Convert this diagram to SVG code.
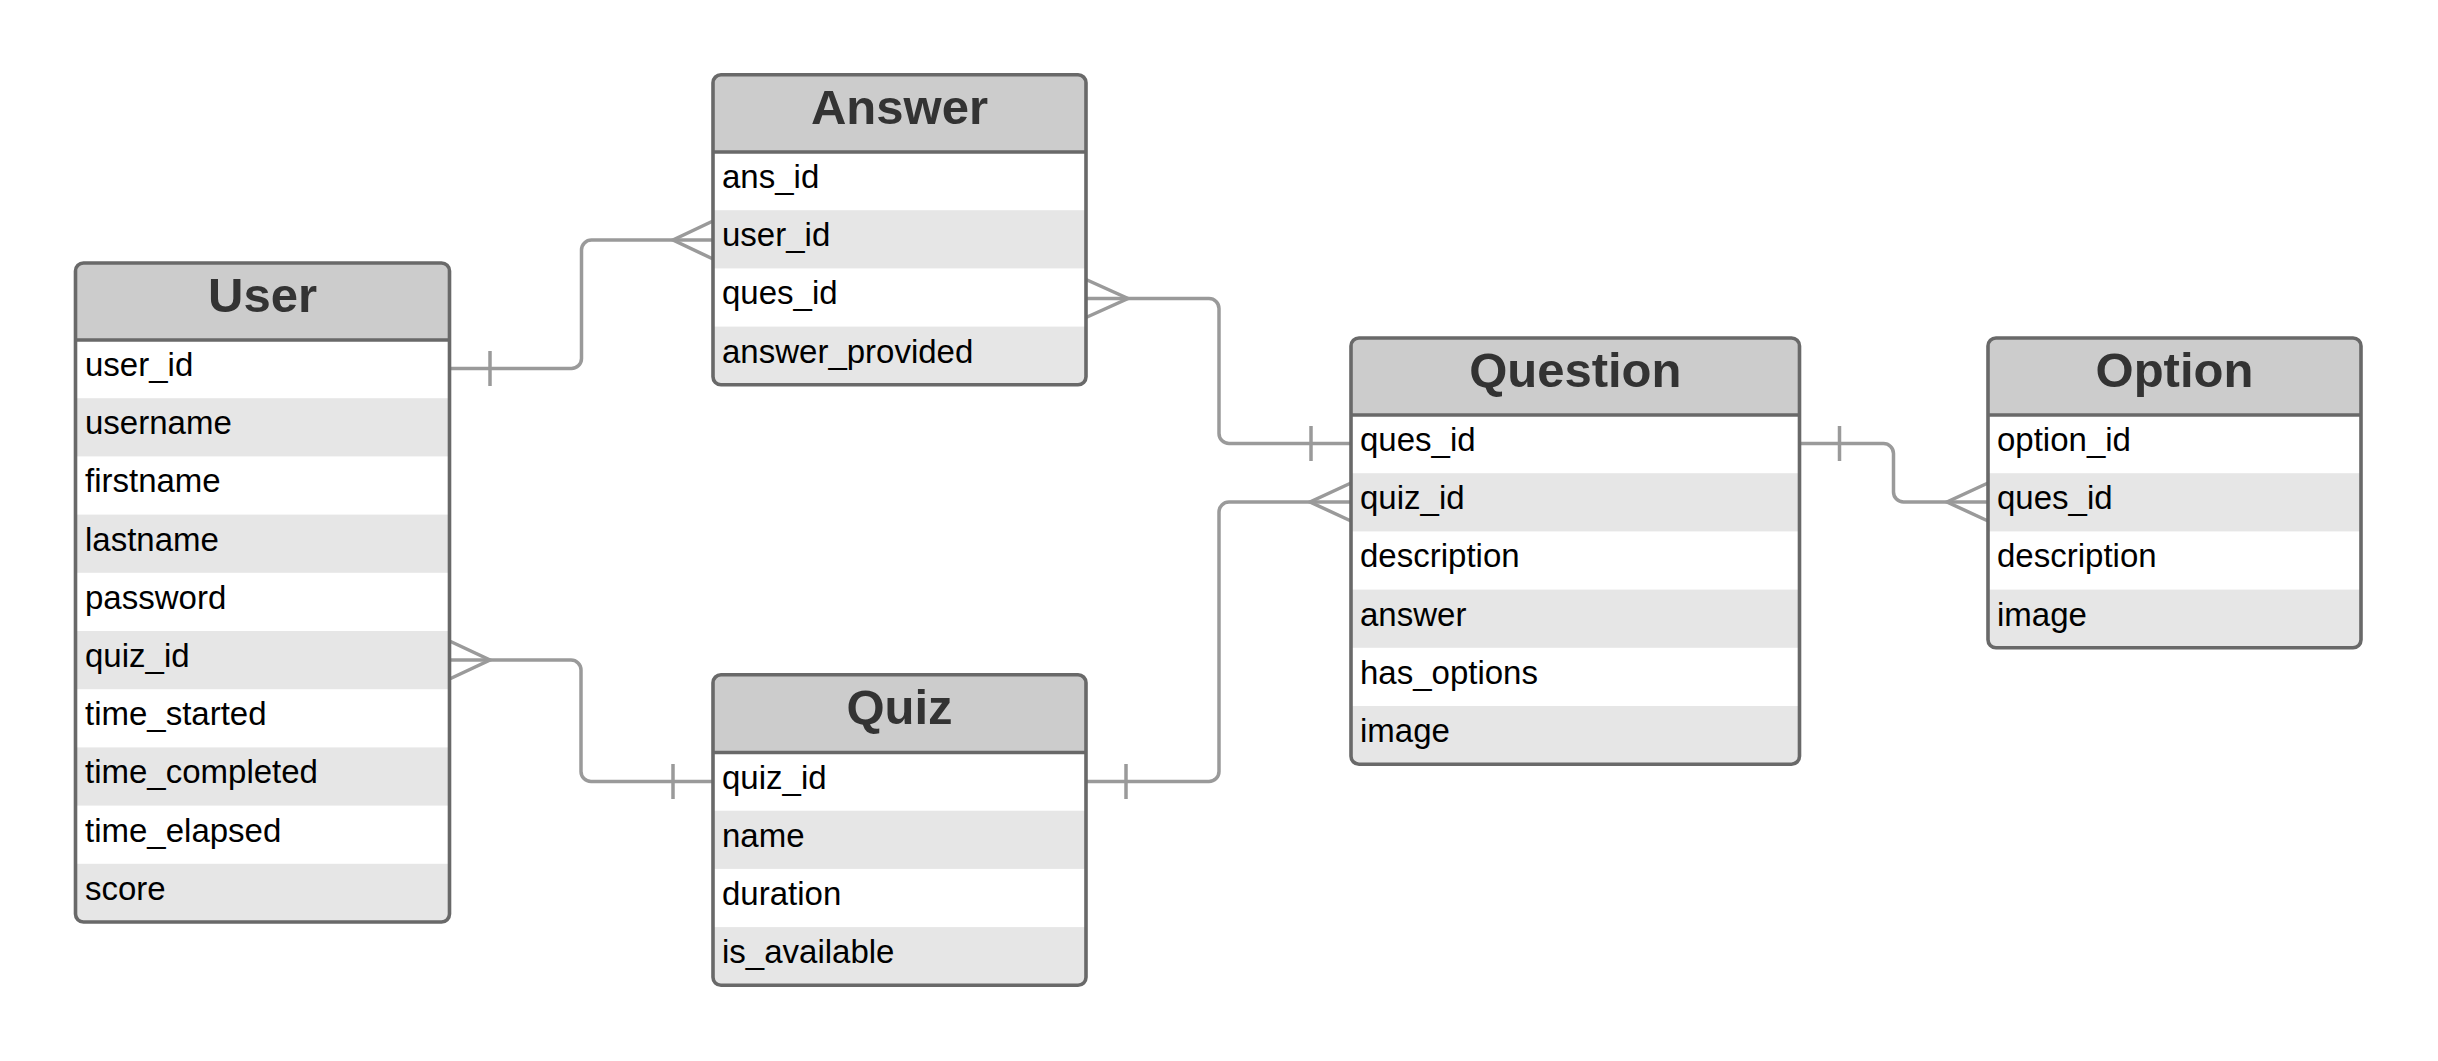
<svg xmlns="http://www.w3.org/2000/svg" width="2438" height="1061" viewBox="0 0 2438 1061">
<style>
.bg{fill:#ffffff}
.hd{fill:#cccccc}
.alt{fill:#e6e6e6}
.frame{fill:none;stroke:#696969;stroke-width:3.6}
.sep{stroke:#696969;stroke-width:3.6}
.title{font-family:"Liberation Sans",Arial,sans-serif;font-weight:bold;font-size:49px;fill:#333333;text-anchor:middle}
.row{font-family:"Liberation Sans",Arial,sans-serif;font-size:33px;fill:#000000}
.conn{fill:none;stroke:#9a9a9a;stroke-width:3.5;stroke-linecap:butt}
</style>
<defs>
<clipPath id="cUser"><rect x="75.5" y="263" width="374" height="659" rx="8"/></clipPath>
<clipPath id="cAnswer"><rect x="713" y="74.8" width="373" height="310" rx="8"/></clipPath>
<clipPath id="cQuiz"><rect x="713" y="674.8" width="373" height="310.5" rx="8"/></clipPath>
<clipPath id="cQuestion"><rect x="1351" y="338" width="448.5" height="426.2" rx="8"/></clipPath>
<clipPath id="cOption"><rect x="1988" y="338" width="373" height="309.8" rx="8"/></clipPath>
</defs>
<rect width="2438" height="1061" fill="#ffffff"/>

<g id="connectors">
  <!-- User.user_id -> Answer.user_id -->
  <path class="conn" d="M449.5 368.5 H571.5 A10 10 0 0 0 581.5 358.5 V250 A10 10 0 0 1 591.5 240 H713"/>
  <path class="conn" d="M490 351 V386"/>
  <path class="conn" d="M713 221 L673 240 L713 259"/>
  <!-- User.quiz_id -> Quiz.quiz_id -->
  <path class="conn" d="M449.5 660 H571 A10 10 0 0 1 581 670 V771.5 A10 10 0 0 0 591 781.5 H713"/>
  <path class="conn" d="M449.5 641 L490 660 L449.5 679"/>
  <path class="conn" d="M673 764 V799"/>
  <!-- Answer.ques_id -> Question.ques_id -->
  <path class="conn" d="M1086 298.5 H1209 A10 10 0 0 1 1219 308.5 V433.5 A10 10 0 0 0 1229 443.5 H1351"/>
  <path class="conn" d="M1086 279.5 L1128 298.5 L1086 317.5"/>
  <path class="conn" d="M1311 426 V461"/>
  <!-- Quiz.quiz_id -> Question.quiz_id -->
  <path class="conn" d="M1086 781.5 H1209 A10 10 0 0 0 1219 771.5 V512 A10 10 0 0 1 1229 502 H1351"/>
  <path class="conn" d="M1126 764 V799"/>
  <path class="conn" d="M1351 483 L1310 502 L1351 521"/>
  <!-- Question.ques_id -> Option.ques_id -->
  <path class="conn" d="M1799.5 443.5 H1883.5 A10 10 0 0 1 1893.5 453.5 V492 A10 10 0 0 0 1903.5 502 H1988"/>
  <path class="conn" d="M1839.5 426 V461"/>
  <path class="conn" d="M1988 483 L1947 502 L1988 521"/>
</g>

<g id="user">
  <rect class="bg" x="75.5" y="263" width="374" height="659" rx="8"/>
  <g clip-path="url(#cUser)">
    <rect class="hd" x="75.5" y="263" width="374" height="77"/>
    <rect class="alt" x="75.5" y="398.2" width="374" height="58.2"/>
    <rect class="alt" x="75.5" y="514.6" width="374" height="58.2"/>
    <rect class="alt" x="75.5" y="631" width="374" height="58.2"/>
    <rect class="alt" x="75.5" y="747.4" width="374" height="58.2"/>
    <rect class="alt" x="75.5" y="863.8" width="374" height="60"/>
  </g>
  <line class="sep" x1="75.5" y1="340" x2="449.5" y2="340"/>
  <rect class="frame" x="75.5" y="263" width="374" height="659" rx="8"/>
  <text class="title" x="262.5" y="312">User</text>
  <text class="row" x="85" y="376">user_id</text>
  <text class="row" x="85" y="434.2">username</text>
  <text class="row" x="85" y="492.4">firstname</text>
  <text class="row" x="85" y="550.6">lastname</text>
  <text class="row" x="85" y="608.8">password</text>
  <text class="row" x="85" y="667">quiz_id</text>
  <text class="row" x="85" y="725.2">time_started</text>
  <text class="row" x="85" y="783.4">time_completed</text>
  <text class="row" x="85" y="841.6">time_elapsed</text>
  <text class="row" x="85" y="899.8">score</text>
</g>

<g id="answer">
  <rect class="bg" x="713" y="74.8" width="373" height="310" rx="8"/>
  <g clip-path="url(#cAnswer)">
    <rect class="hd" x="713" y="74.8" width="373" height="77.2"/>
    <rect class="alt" x="713" y="210.2" width="373" height="58.2"/>
    <rect class="alt" x="713" y="326.6" width="373" height="60"/>
  </g>
  <line class="sep" x1="713" y1="152" x2="1086" y2="152"/>
  <rect class="frame" x="713" y="74.8" width="373" height="310" rx="8"/>
  <text class="title" x="899.5" y="124">Answer</text>
  <text class="row" x="722" y="188">ans_id</text>
  <text class="row" x="722" y="246.2">user_id</text>
  <text class="row" x="722" y="304.4">ques_id</text>
  <text class="row" x="722" y="362.6">answer_provided</text>
</g>

<g id="quiz">
  <rect class="bg" x="713" y="674.8" width="373" height="310.5" rx="8"/>
  <g clip-path="url(#cQuiz)">
    <rect class="hd" x="713" y="674.8" width="373" height="77.7"/>
    <rect class="alt" x="713" y="810.7" width="373" height="58.2"/>
    <rect class="alt" x="713" y="927.1" width="373" height="60"/>
  </g>
  <line class="sep" x1="713" y1="752.5" x2="1086" y2="752.5"/>
  <rect class="frame" x="713" y="674.8" width="373" height="310.5" rx="8"/>
  <text class="title" x="899.5" y="724">Quiz</text>
  <text class="row" x="722" y="788.5">quiz_id</text>
  <text class="row" x="722" y="846.7">name</text>
  <text class="row" x="722" y="904.9">duration</text>
  <text class="row" x="722" y="963.1">is_available</text>
</g>

<g id="question">
  <rect class="bg" x="1351" y="338" width="448.5" height="426.2" rx="8"/>
  <g clip-path="url(#cQuestion)">
    <rect class="hd" x="1351" y="338" width="448.5" height="77"/>
    <rect class="alt" x="1351" y="473.2" width="448.5" height="58.2"/>
    <rect class="alt" x="1351" y="589.6" width="448.5" height="58.2"/>
    <rect class="alt" x="1351" y="706" width="448.5" height="60"/>
  </g>
  <line class="sep" x1="1351" y1="415" x2="1799.5" y2="415"/>
  <rect class="frame" x="1351" y="338" width="448.5" height="426.2" rx="8"/>
  <text class="title" x="1575.3" y="387">Question</text>
  <text class="row" x="1360" y="451">ques_id</text>
  <text class="row" x="1360" y="509.2">quiz_id</text>
  <text class="row" x="1360" y="567.4">description</text>
  <text class="row" x="1360" y="625.6">answer</text>
  <text class="row" x="1360" y="683.8">has_options</text>
  <text class="row" x="1360" y="742">image</text>
</g>

<g id="option">
  <rect class="bg" x="1988" y="338" width="373" height="309.8" rx="8"/>
  <g clip-path="url(#cOption)">
    <rect class="hd" x="1988" y="338" width="373" height="77"/>
    <rect class="alt" x="1988" y="473.2" width="373" height="58.2"/>
    <rect class="alt" x="1988" y="589.6" width="373" height="60"/>
  </g>
  <line class="sep" x1="1988" y1="415" x2="2361" y2="415"/>
  <rect class="frame" x="1988" y="338" width="373" height="309.8" rx="8"/>
  <text class="title" x="2174.5" y="387">Option</text>
  <text class="row" x="1997" y="451">option_id</text>
  <text class="row" x="1997" y="509.2">ques_id</text>
  <text class="row" x="1997" y="567.4">description</text>
  <text class="row" x="1997" y="625.6">image</text>
</g>
</svg>
